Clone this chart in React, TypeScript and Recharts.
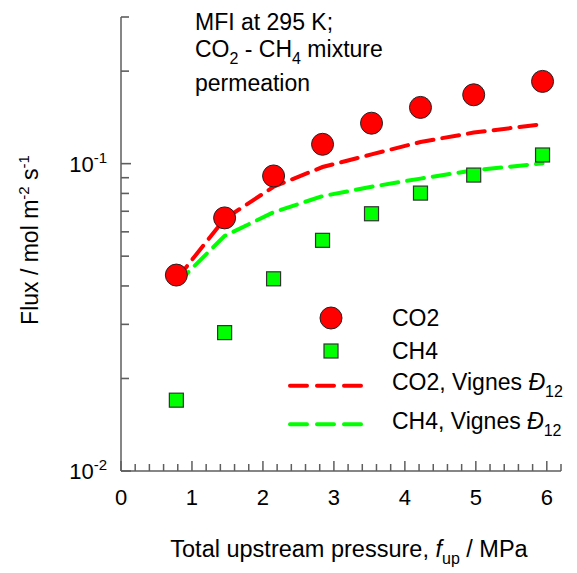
import { ComposedChart, Scatter, Line, XAxis, YAxis, Customized } from 'recharts'

const pressure = [0.78, 1.46, 2.15, 2.84, 3.53, 4.22, 4.97, 5.94]
const co2Flux = [0.0434, 0.0666, 0.0912, 0.1156, 0.1354, 0.1524, 0.1675, 0.1852]
const ch4Flux = [0.017, 0.0282, 0.0422, 0.0563, 0.0687, 0.0802, 0.0918, 0.1067]
const co2Vignes = [0.042, 0.0661, 0.0841, 0.0975, 0.1072, 0.1176, 0.1262, 0.1344]
const ch4Vignes = [0.0406, 0.0582, 0.0695, 0.0784, 0.0841, 0.0894, 0.0951, 0.1002]

const xTicks = [
  0, 0.2, 0.4, 0.6, 0.8, 1, 1.2, 1.4, 1.6, 1.8, 2, 2.2, 2.4, 2.6, 2.8, 3, 3.2, 3.4, 3.6, 3.8,
  4, 4.2, 4.4, 4.6, 4.8, 5, 5.2, 5.4, 5.6, 5.8, 6, 6.2,
]
const xLabels = [0, 1, 2, 3, 4, 5, 6]
const yTicks = [0.01, 0.02, 0.03, 0.04, 0.05, 0.06, 0.07, 0.08, 0.09, 0.1, 0.2, 0.3]
const yLabels = [
  { value: 0.01, exp: '-2' },
  { value: 0.1, exp: '-1' },
]

const FONT = '"Liberation Sans", Arial, sans-serif'
const AXIS = '#5e5e5e'

const toPoints = (ys: number[]) => pressure.map((x, i) => ({ x, y: ys[i] }))

// ticks point inward, so draw them ourselves (tickSize 0 puts x/y on the axis line)
const XTick = (props: any) => {
  const { x, y, payload } = props
  const major = xLabels.includes(payload.value)
  return (
    <g>
      <line x1={x} x2={x} y1={y} y2={y - (major ? 10 : 7)} stroke={AXIS} strokeWidth={1.5} />
      {major && (
        <text x={x} y={y + 34} textAnchor="middle" fontSize={22} fill="#000">
          {payload.value}
        </text>
      )}
    </g>
  )
}

const YTick = (props: any) => {
  const { x, y, payload } = props
  const label = yLabels.find((l) => Math.abs(l.value - payload.value) < 1e-9)
  return (
    <g>
      <line x1={x} x2={x + (label ? 10 : 8)} y1={y} y2={y} stroke={AXIS} strokeWidth={1.6} />
      {label && (
        <text x={x - 14} y={y + 8} textAnchor="end" fontSize={22} fill="#000">
          10
          <tspan fontSize={15} dy={-9}>
            {label.exp}
          </tspan>
        </text>
      )}
    </g>
  )
}

const Circle = (props: any) => (
  <circle cx={props.cx} cy={props.cy} r={11} fill="#ff0000" stroke="#222" strokeWidth={1} />
)

const Square = (props: any) => (
  <rect x={props.cx - 7} y={props.cy - 7} width={14} height={14} fill="#00ff00" stroke="#333" strokeWidth={1.2} />
)

const Annotations = () => (
  <g fontFamily={FONT} fontSize={23} fill="#000">
    <text x={195} y={30}>MFI at 295 K;</text>
    <text x={195} y={57}>
      CO<tspan fontSize={16} dy={7}>2</tspan>
      <tspan dy={-7}> - CH</tspan>
      <tspan fontSize={16} dy={7}>4</tspan>
      <tspan dy={-7}> mixture</tspan>
    </text>
    <text x={195} y={91}>permeation</text>

    <circle cx={331} cy={318} r={11} fill="#ff0000" stroke="#222" strokeWidth={1} />
    <text x={392} y={326}>CO2</text>
    <rect x={324} y={344} width={14} height={14} fill="#00ff00" stroke="#333" strokeWidth={1.2} />
    <text x={392} y={358.5}>CH4</text>
    <line x1={290} x2={361} y1={385.7} y2={385.7} stroke="#ff0000" strokeWidth={4} strokeDasharray="17 10" strokeLinecap="round" />
    <text x={392} y={390}>
      CO2, Vignes <tspan fontStyle="italic">Đ</tspan>
      <tspan fontSize={16} dy={7}>12</tspan>
    </text>
    <line x1={290} x2={361} y1={424.3} y2={424.3} stroke="#00ff00" strokeWidth={4} strokeDasharray="17 10" strokeLinecap="round" />
    <text x={392} y={428.5}>
      CH4, Vignes <tspan fontStyle="italic">Đ</tspan>
      <tspan fontSize={16} dy={7}>12</tspan>
    </text>

    <text x={349} y={557} textAnchor="middle" fontSize={23.5}>
      Total upstream pressure, <tspan fontStyle="italic">f</tspan>
      <tspan fontSize={16} dy={7}>up</tspan>
      <tspan dy={-7}> / MPa</tspan>
    </text>
    <text x={38} y={240} textAnchor="middle" transform="rotate(-90, 38, 240)">
      Flux / mol m<tspan fontSize={15} dy={-9}>-2</tspan>
      <tspan dy={9}> s</tspan>
      <tspan fontSize={15} dy={-9}>-1</tspan>
    </text>
  </g>
)

export default function App() {
  return (
    <div style={{ position: 'absolute', left: 0, top: 0, fontFamily: FONT }}>
      <ComposedChart width={577} height={573} margin={{ top: 17, right: 16, bottom: 0, left: 0 }}>
        <XAxis
          type="number"
          dataKey="x"
          domain={[0, 6.2]}
          ticks={xTicks}
          interval={0}
          height={102}
          tickSize={0}
          tickMargin={0}
          tickLine={false}
          tick={<XTick />}
          axisLine={{ stroke: AXIS, strokeWidth: 1.5 }}
          allowDataOverflow
        />
        <YAxis
          type="number"
          scale="log"
          domain={[0.01, 0.3]}
          ticks={yTicks}
          interval={0}
          width={121}
          tickSize={0}
          tickMargin={0}
          tickLine={false}
          tick={<YTick />}
          axisLine={{ stroke: AXIS, strokeWidth: 1.5 }}
          allowDataOverflow
        />
        <Scatter data={toPoints(co2Flux)} dataKey="y" shape={Circle} isAnimationActive={false} />
        <Scatter data={toPoints(ch4Flux)} dataKey="y" shape={Square} isAnimationActive={false} />
        <Line
          data={toPoints(co2Vignes)}
          dataKey="y"
          type="linear"
          stroke="#ff0000"
          strokeWidth={4}
          strokeDasharray="17 9"
          strokeLinecap="round"
          dot={false}
          isAnimationActive={false}
        />
        <Line
          data={toPoints(ch4Vignes)}
          dataKey="y"
          type="linear"
          stroke="#00ff00"
          strokeWidth={4}
          strokeDasharray="17 9"
          strokeLinecap="round"
          dot={false}
          isAnimationActive={false}
        />
        <Customized component={<Annotations />} />
      </ComposedChart>
    </div>
  )
}
